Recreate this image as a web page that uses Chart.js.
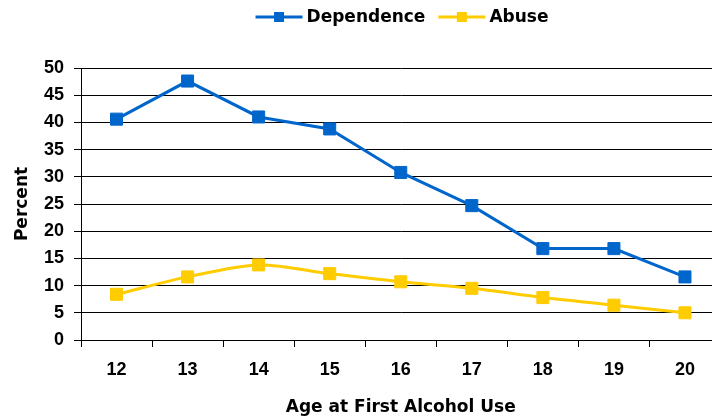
<!DOCTYPE html>
<html>
<head>
<meta charset="utf-8">
<script src="https://cdn.jsdelivr.net/npm/chart.js@4.4.1/dist/chart.umd.min.js"></script>
<style>
  html, body { margin: 0; padding: 0; background: #fff; }
  .wrap { width: 712px; height: 418px; overflow: hidden; }
</style>
</head>
<body>
<div class="wrap">
  <canvas id="chart" width="730" height="418"></canvas>
</div>
<script>
const ages = ['12', '13', '14', '15', '16', '17', '18', '19', '20'];
const dependence = [40.6, 47.6, 41.0, 38.8, 30.8, 24.7, 16.8, 16.8, 11.6];
const abuse = [8.4, 11.6, 13.8, 12.2, 10.7, 9.5, 7.8, 6.4, 5.0];
const yTicks = [0, 5, 10, 15, 20, 25, 30, 35, 40, 45, 50];

const BLUE = '#0066CC';
const YELLOW = '#FFCC00';
const labelFont = { family: 'Liberation Sans, Arial, sans-serif', size: 18, weight: 'bold' };
const titleFont = { family: 'DejaVu Sans, sans-serif', size: 17, weight: 'bold' };

// legend drawn as line + square marker, like the original
const lineLegend = {
  id: 'lineLegend',
  afterDraw(chart) {
    const ctx = chart.ctx;
    const y = 17;
    ctx.save();
    ctx.font = 'bold 17px "DejaVu Sans", sans-serif';
    ctx.textBaseline = 'middle';
    const items = chart.data.datasets.map(ds => ({
      text: ds.label, color: ds.borderColor, w: ctx.measureText(ds.label).width
    }));
    const lineW = 47, gapText = 4, gapItem = 13;
    let total = 0;
    items.forEach((it, i) => { total += lineW + gapText + it.w + (i ? gapItem : 0); });
    let x = 402 - total / 2;
    items.forEach((it, i) => {
      if (i) x += gapItem;
      ctx.strokeStyle = it.color;
      ctx.lineWidth = 3;
      ctx.beginPath();
      ctx.moveTo(x, y);
      ctx.lineTo(x + lineW, y);
      ctx.stroke();
      ctx.fillStyle = it.color;
      ctx.fillRect(x + lineW / 2 - 5, y - 5, 10, 10);
      x += lineW + gapText;
      ctx.fillStyle = '#000';
      ctx.fillText(it.text, x, y + 1);
      x += it.w;
    });
    ctx.restore();
  }
};

new Chart(document.getElementById('chart'), {
  type: 'line',
  data: {
    labels: ages,
    datasets: [
      {
        label: 'Dependence',
        data: dependence,
        borderColor: BLUE,
        backgroundColor: BLUE,
        borderWidth: 3,
        pointStyle: 'rect',
        pointRadius: 8.5,
        pointBorderWidth: 1,
        tension: 0,
      },
      {
        label: 'Abuse',
        data: abuse,
        borderColor: YELLOW,
        backgroundColor: YELLOW,
        borderWidth: 3,
        pointStyle: 'rect',
        pointRadius: 8.5,
        pointBorderWidth: 1,
        tension: 0.3,
      },
    ],
  },
  options: {
    responsive: false,
    animation: false,
    layout: { padding: { top: 68, right: 0, bottom: 0, left: 0 } },
    plugins: {
      legend: { display: false },
      tooltip: { enabled: false },
    },
    scales: {
      x: {
        offset: true,
        afterFit: (scale) => { scale.height = 78; },
        grid: { offset: true, drawOnChartArea: false, drawTicks: true, tickLength: 7, color: '#000', lineWidth: 1 },
        border: { color: '#000', width: 1 },
        ticks: { color: '#000', font: labelFont, padding: 12, maxRotation: 0 },
        title: { display: true, text: 'Age at First Alcohol Use', color: '#000', font: titleFont, padding: { top: 0, bottom: 0 } },
      },
      y: {
        min: 0,
        max: 50,
        afterFit: (scale) => { scale.width = 81; },
        afterBuildTicks: (scale) => { scale.ticks = yTicks.map(v => ({ value: v })); },
        grid: { color: '#000', lineWidth: 1, tickLength: 7 },
        border: { color: '#000', width: 1 },
        ticks: { color: '#000', font: labelFont, padding: 10 },
        title: { display: true, text: 'Percent', color: '#000', font: titleFont, padding: { top: 12, bottom: 12 } },
      },
    },
  },
  plugins: [lineLegend],
});
</script>
</body>
</html>
